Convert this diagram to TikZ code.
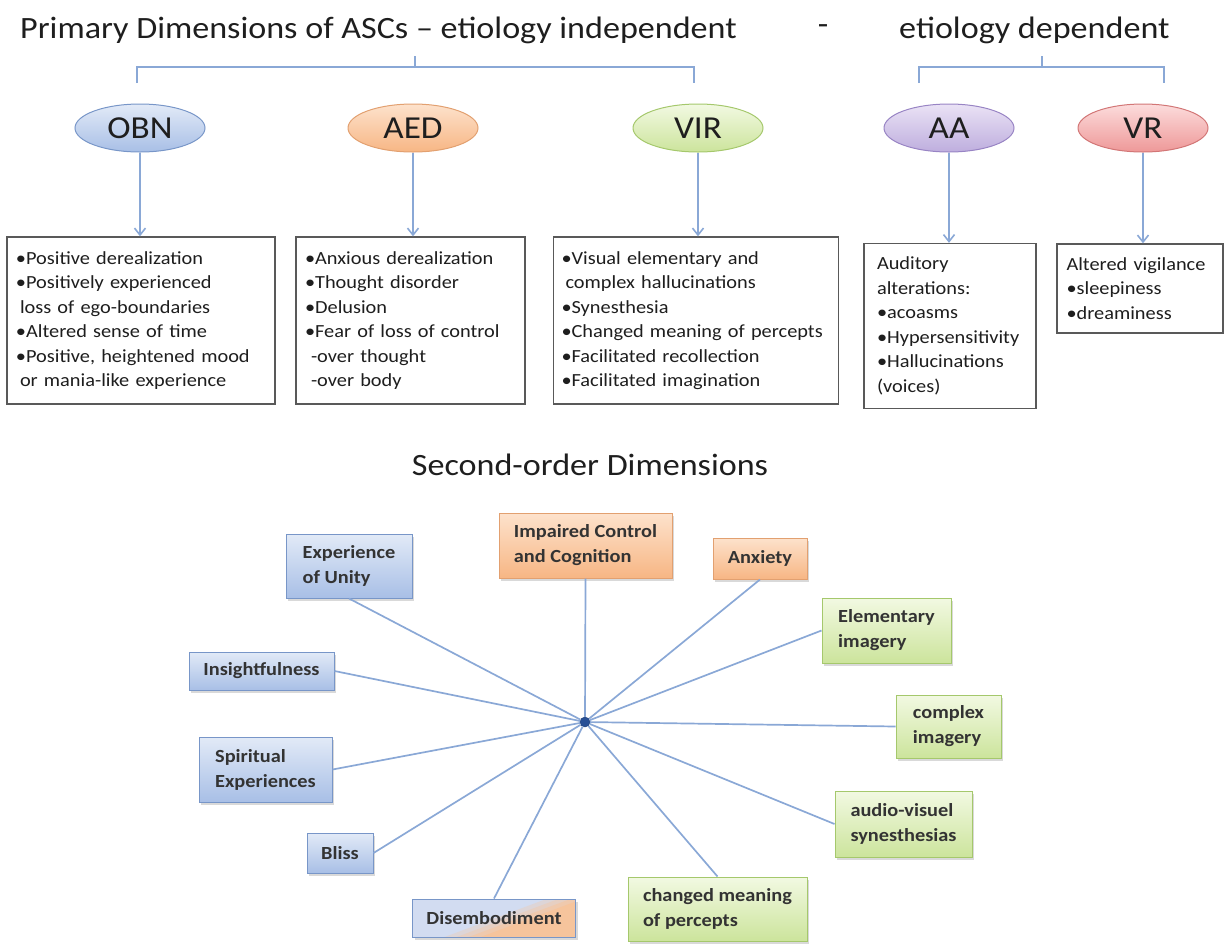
\documentclass[tikz,border=0pt]{standalone}
\usepackage{fontspec}
\setmainfont{Carlito}[FakeStretch=1.1]
\usetikzlibrary{arrows.meta,shapes.geometric,shadows}
\definecolor{linec}{RGB}{138,168,214}
\definecolor{hubc}{RGB}{40,80,150}
\definecolor{bTop}{RGB}{226,234,247}
\definecolor{bBot}{RGB}{168,191,230}
\definecolor{bDraw}{RGB}{120,150,200}
\definecolor{oTop}{RGB}{253,226,204}
\definecolor{oBot}{RGB}{247,182,132}
\definecolor{oDraw}{RGB}{226,160,112}
\definecolor{gTop}{RGB}{242,249,226}
\definecolor{gBot}{RGB}{204,228,156}
\definecolor{gDraw}{RGB}{165,200,108}
\definecolor{pTop}{RGB}{234,226,245}
\definecolor{pBot}{RGB}{190,174,222}
\definecolor{pDraw}{RGB}{152,132,196}
\definecolor{rTop}{RGB}{252,220,220}
\definecolor{rBot}{RGB}{238,152,152}
\definecolor{rDraw}{RGB}{210,118,118}
\definecolor{dBlue}{RGB}{210,220,241}
\definecolor{dPeach}{RGB}{246,196,156}
\definecolor{txt}{RGB}{30,30,30}
\begin{document}
\begin{tikzpicture}[x=1pt,y=-1pt,
  every node/.style={text=txt},
  con/.style={draw=linec,line width=1.6pt},
  arr/.style={draw=linec,line width=1.6pt,-{Straight Barb[length=7pt,width=11pt]}},
  spoke/.style={draw=linec,line width=1.7pt},
  ell/.style={ellipse,minimum width=130pt,minimum height=48pt,inner sep=0pt,line width=1pt,
    font=\fontsize{32}{36}\selectfont},
  tbox/.style={draw=black!65,line width=1.3pt,fill=white,align=left,inner sep=0pt,
    font=\fontsize{18.5}{24.5}\selectfont},
  sbox/.style={line width=1pt,align=left,inner sep=0pt,
    drop shadow={opacity=0.3,shadow xshift=2pt,shadow yshift=-2.5pt},
    font=\bfseries\fontsize{18.5}{25}\selectfont,text=black!80},
  bb/.style={sbox,draw=bDraw,top color=bTop,bottom color=bBot},
  ob/.style={sbox,draw=oDraw,top color=oTop,bottom color=oBot},
  gb/.style={sbox,draw=gDraw,top color=gTop,bottom color=gBot},
  hdr/.style={font=\fontsize{31}{35}\selectfont}
]
\useasboundingbox (0,0) rectangle (1225,943);

% titles
\node[hdr,anchor=west,inner sep=0pt] (title) at (20,30) {Primary Dimensions of ASCs -- etiology independent};
\node[hdr] (dash) at (823,30) {-};
\node[hdr,anchor=west,inner sep=0pt] (title2) at (899,30) {etiology dependent};

% brackets
\coordinate (bl1) at (137,83); \coordinate (bl2) at (137,67);
\coordinate (bl3) at (694,67); \coordinate (bl4) at (694,83);
\coordinate (blt) at (415,67); \coordinate (blu) at (415,56);
\draw[con] (bl1) -- (bl2) -- (bl3) -- (bl4);
\draw[con] (blt) -- (blu);
\coordinate (br1) at (919,83); \coordinate (br2) at (919,67);
\coordinate (br3) at (1164,67); \coordinate (br4) at (1164,83);
\coordinate (brt) at (1042,67); \coordinate (bru) at (1042,56);
\draw[con] (br1) -- (br2) -- (br3) -- (br4);
\draw[con] (brt) -- (bru);

% ellipses
\node[ell,draw=bDraw,top color=bTop,bottom color=bBot] (obn) at (140,128) {OBN};
\node[ell,draw=oDraw,top color=oTop,bottom color=oBot] (aed) at (413,128) {AED};
\node[ell,draw=gDraw,top color=gTop,bottom color=gBot] (vir) at (698,128) {VIR};
\node[ell,draw=pDraw,top color=pTop,bottom color=pBot] (aa) at (949,128) {AA};
\node[ell,draw=rDraw,top color=rTop,bottom color=rBot] (vr) at (1143,128) {VR};

% top boxes
\node[tbox,minimum width=268pt,minimum height=167pt,text width=250pt] (obnbox) at (141,320.5) {%
\textbullet Positive derealization\\
\textbullet Positively experienced\\
\hspace*{4pt}loss of ego-boundaries\\
\textbullet Altered sense of time\\
\textbullet Positive, heightened mood\\
\hspace*{4pt}or mania-like experience};
\node[tbox,minimum width=229pt,minimum height=167pt,text width=211pt] (aedbox) at (410.5,320.5) {%
\textbullet Anxious derealization\\
\textbullet Thought disorder\\
\textbullet Delusion\\
\textbullet Fear of loss of control\\
\hspace*{6pt}-over thought\\
\hspace*{6pt}-over body};
\node[tbox,minimum width=285pt,minimum height=167pt,text width=269pt] (virbox) at (696,320.5) {%
\textbullet Visual elementary and\\
\hspace*{4pt}complex hallucinations\\
\textbullet Synesthesia\\
\textbullet Changed meaning of percepts\\
\textbullet Facilitated recollection\\
\textbullet Facilitated imagination};
\node[tbox,minimum width=172pt,minimum height=165pt,text width=146pt] (aabox) at (950,326) {%
Auditory\\
alterations:\\
\textbullet acoasms\\
\textbullet Hypersensitivity\\
\textbullet Hallucinations\\
(voices)};
\node[tbox,minimum width=166pt,minimum height=89pt,text width=147pt] (vrbox) at (1140,288.5) {%
Altered vigilance\\
\textbullet sleepiness\\
\textbullet dreaminess};

% arrows
\draw[arr] (obn.south) -- (obn.south |- obnbox.north);
\draw[arr] (aed.south) -- (aed.south |- aedbox.north);
\draw[arr] (vir.south) -- (vir.south |- virbox.north);
\draw[arr] (aa.south) -- (aa.south |- aabox.north);
\draw[arr] (vr.south) -- (vr.south |- vrbox.north);

% second order
\node[hdr] (title3) at (590,465) {Second-order Dimensions};

\node[bb,minimum width=126pt,minimum height=64pt] (unity) at (349,566) {Experience\\of Unity};
\node[ob,minimum width=173pt,minimum height=65pt] (impaired) at (585.5,545.5) {Impaired Control\\and Cognition};
\node[ob,minimum width=94pt,minimum height=41pt] (anxiety) at (760,558.5) {Anxiety};
\node[gb,minimum width=129pt,minimum height=65pt] (elem) at (886.5,630.5) {Elementary\\imagery};
\node[bb,minimum width=145pt,minimum height=38pt] (insight) at (261.5,671) {Insightfulness};
\node[gb,minimum width=105pt,minimum height=63pt] (complex) at (948.5,726.5) {complex\\imagery};
\node[bb,minimum width=133pt,minimum height=65pt] (spirit) at (265.5,769.5) {Spiritual\\Experiences};
\node[gb,minimum width=137pt,minimum height=66pt] (audio) at (903.5,824) {audio-visuel\\synesthesias};
\node[bb,minimum width=66pt,minimum height=40pt] (bliss) at (340,853) {Bliss};
\node[sbox,draw=bDraw,minimum width=163pt,minimum height=38pt,
  path picture={
    \fill[dBlue] (path picture bounding box.south west) rectangle (path picture bounding box.north east);
    \fill[dBlue!70!dPeach] ([xshift=-52pt,yshift=-20pt]path picture bounding box.center) -- ([xshift=55pt,yshift=20pt]path picture bounding box.center) -- ([xshift=90pt,yshift=20pt]path picture bounding box.center) -- ([xshift=90pt,yshift=-20pt]path picture bounding box.center) -- cycle;
    \fill[dBlue!45!dPeach] ([xshift=-40pt,yshift=-20pt]path picture bounding box.center) -- ([xshift=67pt,yshift=20pt]path picture bounding box.center) -- ([xshift=90pt,yshift=20pt]path picture bounding box.center) -- ([xshift=90pt,yshift=-20pt]path picture bounding box.center) -- cycle;
    \fill[dBlue!20!dPeach] ([xshift=-28pt,yshift=-20pt]path picture bounding box.center) -- ([xshift=79pt,yshift=20pt]path picture bounding box.center) -- ([xshift=90pt,yshift=20pt]path picture bounding box.center) -- ([xshift=90pt,yshift=-20pt]path picture bounding box.center) -- cycle;
    \fill[dPeach] ([xshift=-16pt,yshift=-20pt]path picture bounding box.center) -- ([xshift=91pt,yshift=20pt]path picture bounding box.center) -- ([xshift=95pt,yshift=20pt]path picture bounding box.center) -- ([xshift=95pt,yshift=-20pt]path picture bounding box.center) -- cycle;
  }] (disemb) at (494,918) {Disembodiment};
\node[gb,minimum width=179pt,minimum height=64pt] (changed) at (717.5,909) {changed meaning\\of percepts};

\node[circle,fill=hubc,draw=hubc!80!black,minimum width=8pt,minimum height=10pt,inner sep=0pt] (hub) at (585,722) {};

\draw[spoke] (hub) -- (unity.south);
\draw[spoke] (hub) -- (impaired.south);
\draw[spoke] (hub) -- (anxiety.south);
\draw[spoke] (hub) -- (elem.west);
\draw[spoke] (hub) -- (insight.east);
\draw[spoke] (hub) -- (complex.west);
\draw[spoke] (hub) -- (spirit.east);
\draw[spoke] (hub) -- (audio.west);
\draw[spoke] (hub) -- (bliss.east);
\draw[spoke] (hub) -- (disemb.north);
\draw[spoke] (hub) -- (changed.north);
\end{tikzpicture}
\end{document}
